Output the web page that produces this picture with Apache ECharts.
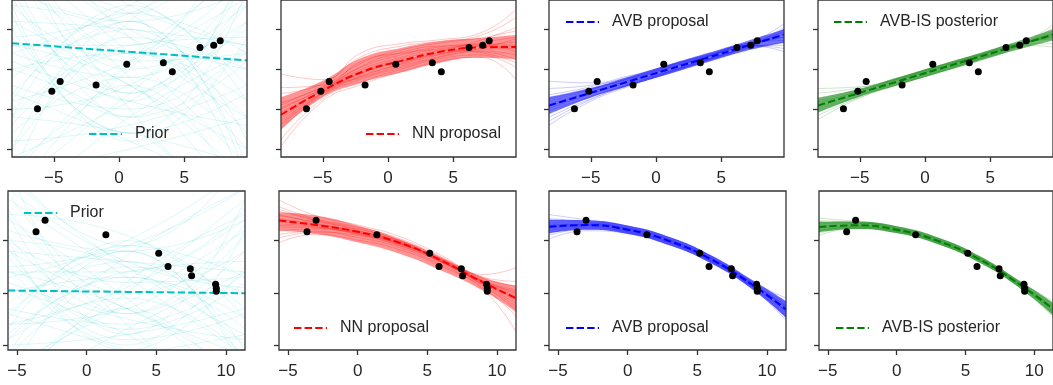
<!DOCTYPE html>
<html>
<head>
<meta charset="utf-8">
<script src="https://cdn.jsdelivr.net/npm/echarts@6/dist/echarts.min.js"></script>
<style>
  html, body { margin: 0; padding: 0; background: #fff; }
  #chart { width: 1053px; height: 385px; }
</style>
</head>
<body>
<div id="chart"></div>
<script>
// knot positions (x) for the curves
const topX = [-8.2, -5, -2, 1, 4, 7, 9.8]
const bottomX = [-5.64, -3, 0, 3, 6, 9, 11.36]
const topPriorX = [-8.2, 0.8, 9.8]
const bottomPriorX = [-5.64, 2.86, 11.36]

// observed points
const topPointsX = [-6.25, -5.15, -4.51, -1.76, 0.59, 3.39, 4.08, 6.2, 7.25, 7.75]
const topPointsY = [-4.94, -2.77, -1.53, -1.98, 0.62, 0.82, -0.3, 2.72, 3.0, 3.58]
const bottomPointsX = [-3.63, -2.98, 1.38, 5.17, 5.84, 7.44, 7.53, 9.25, 9.3, 9.3]
const bottomPointsY = [11.69, 13.91, 11.11, 7.59, 5.04, 4.6, 3.26, 1.65, 0.88, 0.31]

// tick values
const topXTicks = [-5, 0, 5]
const bottomXTicks = [-5, 0, 5, 10]
const topYTicks = [-10, -5, 0, 5]
const bottomYTicks = [-10, 0, 10]

// dashed mean curves
const topPriorMean = [3.25, 2.18, 1.11]
const topNNMean = [-5.7, -2.7, -0.35, 1.05, 2.18, 2.74, 2.79]
const topAVBMean = [-4.54, -2.96, -1.48, 0.0, 1.47, 2.95, 4.33]
const topISMean = [-4.54, -2.96, -1.48, 0.0, 1.47, 2.95, 4.33]
const bottomPriorMean = [0.44, 0.18, -0.08]
const bottomNNMean = [13.85, 13.0, 11.7, 9.6, 6.2, 2.0, -1.0]
const bottomAVBMean = [12.67, 12.98, 12.1, 9.92, 6.4, 1.45, -3.2]
const bottomISMean = [12.6, 12.95, 12.1, 9.95, 6.45, 1.5, -3.1]

// prior samples (left, middle, right)
const topPriorSamples = [
  [14, 2, -12], [-15, -3, 8], [6, 5, 3], [-4, 1, 9], [20, 4, -6], [-9, -7, -2],
  [3, -2, -14], [10, 6, 10], [-12, 0, 14], [1, -4, -7], [8, 1, 2], [-6, 3, 4],
  [15, -5, -20], [-3, -9, -16], [4, 7, 15], [-18, -6, 2], [0, 2, -4], [12, 9, -2],
  [-8, -1, -10], [5, -6, 1], [2, 8, 18], [-14, 4, 0], [9, -3, 6], [-1, 5, -9],
  [18, 7, 20], [-5, -2, 11], [7, -8, -3], [-10, 6, 16], [11, -1, -18], [-2, -5, 3],
  [16, 5, 0], [-7, 2, -6], [3, 3, 12], [-13, -10, -6], [6, -2, -10], [-16, 1, 12],
  [13, 0, 6], [0, -7, -20], [-4, 7, 2], [8, 4, -8], [-11, -4, 5], [19, 8, 3],
  [2, -1, 8], [-6, -8, -12], [10, -4, 12], [12, -6, 14], [-10, 6, -12], [20, -3, 9],
  [-6, 8, -4], [4, -8, 10], [16, 2, 22], [-14, -2, -18], [8, -9, 4], [-3, 6, -14],
  [10, 7, -16]
]
const bottomPriorSamples = [
  [18, 3, -12], [-14, -2, 12], [8, 6, 4], [-6, 1, 14], [22, 5, -8], [-10, -8, -3],
  [4, -3, -16], [12, 8, 14], [-16, 0, 18], [2, -5, -9], [10, 2, 3], [-8, 4, 6],
  [19, -6, -22], [-4, -11, -18], [5, 9, 20], [-20, -7, 4], [0, 3, -5], [15, 11, -3],
  [-9, -1, -12], [7, -7, 2], [3, 10, 24], [-17, 5, 0], [11, -4, 8], [-2, 6, -11],
  [24, 9, 26], [-6, -3, 13], [9, -9, -4], [-12, 7, 20], [14, -1, -20], [-3, -6, 4],
  [20, 6, 1], [-9, 3, -7], [4, 4, 16], [-15, -12, -8], [8, -3, -12], [-19, 2, 15],
  [16, 0, 8], [1, -8, -22], [-5, 9, 3], [10, 5, -10], [15, -8, 18], [-12, 8, -14],
  [25, -4, 11], [-7, 10, -5], [5, -10, 12], [-18, -3, -22], [10, -11, 5], [-4, 8, -16]
]

// proposal / posterior samples and their dense core (low / high edge)
const topNNSamples = [
  [-5.0, -2.4, 0.3, 1.8, 2.8, 3.1, 3.0], [-6.5, -3.0, -0.8, 0.6, 1.8, 2.5, 2.6],
  [-4.2, -2.2, 0.8, 2.4, 3.3, 3.9, 4.8], [-7.4, -3.3, -1.2, 0.2, 1.5, 2.2, 1.2],
  [-3.0, -1.8, 1.6, 2.9, 3.5, 4.2, 6.5], [-8.8, -3.7, -1.6, 0.0, 1.3, 1.8, 0.2],
  [-5.8, -2.6, -0.2, 1.3, 2.4, 3.3, 4.0], [-6.1, -2.9, -0.5, 0.9, 2.0, 2.3, 1.8],
  [-0.6, -1.3, 2.1, 3.2, 3.7, 4.5, 7.5], [-9.7, -4.0, -1.9, -0.3, 1.0, 1.5, -1.3],
  [-4.8, -2.5, 0.0, 1.5, 2.6, 2.9, 2.9], [-6.8, -3.1, -0.9, 0.7, 2.2, 3.6, 5.2],
  [-2.3, -2.0, 1.0, 2.0, 2.4, 2.1, 0.8], [-5.4, -2.7, -0.4, 1.0, 1.9, 2.9, 3.4],
  [-7.0, -2.9, 0.4, 2.1, 2.9, 3.0, 2.2], [-4.5, -2.3, -1.0, 0.4, 1.6, 2.6, 3.8]
]
const topNNLow = [-7.6, -3.5, -1.66, -0.42, 0.82, 1.43, 1.24]
const topNNHigh = [-3.5, -1.45, 1.43, 2.67, 3.5, 3.9, 4.3]

const topAVBSamples = [
  [-4.0, -2.6, -1.1, 0.3, 1.7, 3.0, 4.0], [-5.2, -3.4, -1.8, -0.3, 1.2, 2.8, 4.7],
  [-3.2, -2.2, -0.9, 0.5, 1.9, 3.2, 3.6], [-6.0, -3.7, -2.0, -0.5, 1.1, 2.8, 5.2],
  [-1.5, -1.7, -0.8, 0.5, 1.8, 3.0, 2.2], [-7.0, -4.0, -2.1, -0.4, 1.2, 3.0, 5.7],
  [-4.6, -2.9, -1.4, 0.1, 1.6, 3.1, 4.4], [-3.7, -2.5, -1.1, 0.4, 1.8, 3.2, 4.0],
  [-5.6, -3.5, -1.9, -0.4, 1.1, 2.6, 4.9], [-2.4, -2.0, -1.0, 0.4, 1.7, 2.9, 3.0],
  [-4.3, -2.8, -1.3, 0.2, 1.6, 3.3, 4.6], [-6.5, -3.8, -1.9, -0.3, 1.3, 2.6, 3.4],
  [-4.9, -3.1, -1.6, -0.2, 1.3, 2.9, 5.0], [-3.5, -2.4, -1.2, 0.2, 1.6, 3.0, 2.6]
]
const topAVBLow = [-5.6, -3.55, -2.05, -0.6, 0.9, 2.35, 3.3]
const topAVBHigh = [-3.5, -2.35, -0.9, 0.6, 2.05, 3.55, 5.0]

const topISSamples = [
  [-4.3, -2.7, -1.2, 0.2, 1.7, 3.1, 4.2], [-5.0, -3.3, -1.8, -0.3, 1.2, 2.8, 4.6],
  [-3.6, -2.5, -1.1, 0.4, 1.8, 3.2, 3.8], [-5.8, -3.5, -1.9, -0.4, 1.1, 2.7, 5.2],
  [-2.4, -2.2, -1.0, 0.4, 1.8, 3.1, 3.2], [-6.3, -3.6, -1.9, -0.4, 1.2, 2.8, 5.6],
  [-4.6, -2.9, -1.4, 0.1, 1.5, 3.0, 4.4], [-3.9, -2.6, -1.2, 0.3, 1.7, 3.1, 4.0],
  [-5.3, -3.3, -1.7, -0.2, 1.3, 2.9, 4.8], [-3.0, -2.3, -1.1, 0.3, 1.6, 3.0, 2.8],
  [-4.8, -3.1, -1.6, -0.1, 1.4, 2.9, 4.5], [-4.1, -2.8, -1.3, 0.1, 1.6, 3.0, 4.1]
]
const topISLow = [-5.45, -3.45, -1.95, -0.5, 0.95, 2.4, 3.6]
const topISHigh = [-3.6, -2.45, -1.0, 0.5, 1.95, 3.45, 5.0]

const bottomNNSamples = [
  [14.8, 13.6, 12.2, 10.1, 6.6, 2.4, 0.0], [12.6, 12.4, 11.2, 9.1, 5.8, 1.6, -2.0],
  [16.5, 14.2, 12.6, 10.4, 6.9, 3.0, 2.2], [11.2, 11.8, 10.6, 8.7, 5.4, 1.0, -4.5],
  [17.8, 14.8, 13.0, 10.8, 7.2, 3.5, 4.8], [9.6, 11.2, 10.1, 8.3, 5.1, 0.6, -7.5],
  [14.2, 13.2, 11.9, 9.8, 6.3, 2.1, -0.6], [13.2, 12.7, 11.4, 9.3, 6.0, 1.8, -1.5],
  [15.6, 13.9, 12.0, 9.5, 6.5, 2.7, 1.3], [12.0, 12.2, 11.5, 9.9, 6.1, 1.4, -3.2],
  [15.0, 13.4, 11.6, 9.4, 6.4, 2.2, -0.2], [13.6, 12.9, 11.8, 9.7, 5.9, 1.9, -1.2],
  [10.5, 11.6, 11.0, 9.0, 6.0, 2.3, 0.6], [16.0, 14.0, 12.4, 10.0, 6.2, 1.5, -2.6],
  [14.0, 13.1, 11.6, 9.5, 6.1, 2.0, -0.9], [12.9, 12.6, 11.3, 9.4, 6.3, 2.2, 0.3]
]
const bottomNNLow = [11.9, 11.3, 9.7, 7.5, 4.3, 0.44, -3.7]
const bottomNNHigh = [15.4, 14.8, 12.9, 10.3, 6.8, 3.0, 1.4]

const bottomAVBSamples = [
  [13.4, 13.3, 12.4, 10.2, 6.6, 1.6, -2.7], [11.9, 12.6, 11.7, 9.6, 6.1, 1.1, -3.9],
  [14.2, 13.7, 12.7, 10.5, 6.9, 1.9, -2.0], [11.0, 12.2, 11.5, 9.3, 5.9, 1.0, -4.6],
  [15.0, 14.0, 12.8, 10.6, 7.0, 2.1, -1.0], [10.3, 11.9, 11.4, 9.2, 5.7, 0.7, -5.3],
  [12.9, 13.1, 12.2, 10.0, 6.5, 1.5, -3.0], [12.3, 12.8, 11.9, 9.7, 6.2, 1.2, -3.5],
  [13.9, 13.5, 12.5, 10.3, 6.7, 1.8, -2.5], [11.5, 12.4, 11.7, 9.5, 6.0, 0.9, -4.3],
  [13.0, 13.1, 12.3, 10.1, 6.6, 1.7, -2.6], [12.5, 12.9, 12.0, 9.8, 6.3, 1.3, -3.6]
]
const bottomAVBLow = [11.4, 12.1, 11.3, 9.1, 5.6, 0.55, -4.8]
const bottomAVBHigh = [14.0, 13.9, 12.9, 10.7, 7.2, 2.35, -1.6]

const bottomISSamples = [
  [13.2, 13.3, 12.4, 10.2, 6.7, 1.7, -2.7], [12.0, 12.6, 11.8, 9.7, 6.2, 1.2, -3.6],
  [13.8, 13.5, 12.6, 10.4, 6.9, 1.9, -2.2], [11.4, 12.4, 11.6, 9.5, 6.0, 1.0, -4.1],
  [14.3, 13.7, 12.7, 10.5, 6.9, 2.0, -1.6], [11.0, 12.3, 11.5, 9.4, 5.9, 0.9, -4.6],
  [12.8, 13.0, 12.2, 10.0, 6.5, 1.5, -3.0], [12.4, 12.8, 11.9, 9.8, 6.3, 1.3, -3.3],
  [13.5, 13.4, 12.4, 10.2, 6.6, 1.6, -2.6], [11.8, 12.6, 11.8, 9.7, 6.3, 1.4, -3.8]
]
const bottomISLow = [11.6, 12.25, 11.45, 9.3, 5.8, 0.8, -4.3]
const bottomISHigh = [13.6, 13.65, 12.75, 10.6, 7.1, 2.2, -1.9]

const chart = echarts.init(document.getElementById('chart'))

const textColor = '#262626'
const spineColor = '#333333'
const dash = [7.4, 3.2]
const font = 'Liberation Sans, Arial, sans-serif'

const panels = [
  { name: 'Prior', color: '#00bfbf', xs: topPriorX, mean: topPriorMean, samples: topPriorSamples, lineOp: 0.13, legend: [88, 133] },
  { name: 'NN proposal', color: '#ff0000', xs: topX, mean: topNNMean, samples: topNNSamples, low: topNNLow, high: topNNHigh, lineOp: 0.22, bandOp: 0.42, legend: [365, 133] },
  { name: 'AVB proposal', color: '#0000ff', xs: topX, mean: topAVBMean, samples: topAVBSamples, low: topAVBLow, high: topAVBHigh, lineOp: 0.2, bandOp: 0.55, legend: [565, 21] },
  { name: 'AVB-IS posterior', color: '#008000', xs: topX, mean: topISMean, samples: topISSamples, low: topISLow, high: topISHigh, lineOp: 0.2, bandOp: 0.55, legend: [833, 21] },
  { name: 'Prior', color: '#00bfbf', xs: bottomPriorX, mean: bottomPriorMean, samples: bottomPriorSamples, lineOp: 0.13, legend: [23, 212] },
  { name: 'NN proposal', color: '#ff0000', xs: bottomX, mean: bottomNNMean, samples: bottomNNSamples, low: bottomNNLow, high: bottomNNHigh, lineOp: 0.22, bandOp: 0.42, legend: [293, 327] },
  { name: 'AVB proposal', color: '#0000ff', xs: bottomX, mean: bottomAVBMean, samples: bottomAVBSamples, low: bottomAVBLow, high: bottomAVBHigh, lineOp: 0.2, bandOp: 0.6, legend: [565, 327] },
  { name: 'AVB-IS posterior', color: '#008000', xs: bottomX, mean: bottomISMean, samples: bottomISSamples, low: bottomISLow, high: bottomISHigh, lineOp: 0.2, bandOp: 0.6, legend: [835, 327] }
]

const topLefts = [12, 281, 549, 818]
const bottomLefts = [8, 279, 549, 819]

const pairs = (xs, ys) => xs.map((x, i) => [x, ys[i]])
const fmt = v => (v < 0 ? '\u2212' + Math.abs(v) : String(v))

const grid = []
const xAxis = []
const yAxis = []
const series = []
const legend = []

panels.forEach((p, g) => {
  const top = g < 4
  const col = g % 4
  grid.push({
    left: top ? topLefts[col] : bottomLefts[col],
    top: top ? -2 : 191,
    width: top ? (col === 3 ? 237 : 235) : 237,
    height: 159,
    show: true,
    z: 20,
    borderColor: spineColor,
    borderWidth: 1.3,
    backgroundColor: 'transparent'
  })
  const xt = top ? topXTicks : bottomXTicks
  xAxis.push({
    type: 'value',
    gridIndex: g,
    min: top ? -8.2 : -5.64,
    max: top ? 9.8 : 11.36,
    axisLine: { show: false, onZero: false },
    splitLine: { show: false },
    axisTick: { show: true, inside: false, length: 5, customValues: xt, lineStyle: { color: spineColor, width: 1.3 } },
    axisLabel: { show: true, customValues: xt, formatter: fmt, margin: 13, color: textColor, fontSize: 17, fontFamily: font }
  })
  const yt = top ? topYTicks : bottomYTicks
  yAxis.push({
    type: 'value',
    gridIndex: g,
    min: top ? -10.99 : -10.96,
    max: top ? 8.67 : 19.52,
    axisLine: { show: false, onZero: false },
    splitLine: { show: false },
    axisTick: { show: true, inside: false, length: 5, customValues: yt, lineStyle: { color: spineColor, width: 1.3 } },
    axisLabel: { show: false }
  })

  if (p.low) {
    // tinted core: colour down to the axis start, then white below the lower edge
    series.push({
      type: 'line', xAxisIndex: g, yAxisIndex: g, silent: true, z: 1,
      data: pairs(p.xs, p.high), smooth: true, symbol: 'none',
      lineStyle: { opacity: 0 },
      areaStyle: { color: p.color, opacity: p.bandOp, origin: 'start' }
    })
    series.push({
      type: 'line', xAxisIndex: g, yAxisIndex: g, silent: true, z: 1,
      data: pairs(p.xs, p.low), smooth: true, symbol: 'none',
      lineStyle: { opacity: 0 },
      areaStyle: { color: '#ffffff', opacity: 1, origin: 'start' }
    })
  }

  p.samples.forEach(s => {
    series.push({
      type: 'line', xAxisIndex: g, yAxisIndex: g, silent: true, z: 2,
      data: pairs(p.xs, s), smooth: true, symbol: 'none',
      lineStyle: { color: p.color, width: 1, opacity: p.lineOp }
    })
  })

  series.push({
    name: p.name, type: 'line', xAxisIndex: g, yAxisIndex: g, silent: true,
    data: pairs(p.xs, p.mean), smooth: true, symbol: 'none', z: 5,
    color: p.color,
    lineStyle: { color: p.color, width: 2, type: dash }
  })

  const px = top ? topPointsX : bottomPointsX
  const py = top ? topPointsY : bottomPointsY
  series.push({
    type: 'scatter', xAxisIndex: g, yAxisIndex: g, silent: true,
    data: pairs(px, py), symbolSize: 7, z: 10,
    itemStyle: { color: '#000', opacity: 1 }
  })

  legend.push({
    data: [p.name],
    left: p.legend[0],
    top: p.legend[1] - 7,
    padding: 0,
    itemWidth: 33,
    itemHeight: 14,
    selectedMode: false,
    itemStyle: { opacity: 0 },
    textStyle: { color: textColor, fontSize: 16, fontFamily: font, padding: [0, 0, 0, 8] }
  })
})

chart.setOption({
  animation: false,
  backgroundColor: '#fff',
  grid, xAxis, yAxis, series, legend
})
</script>
</body>
</html>
